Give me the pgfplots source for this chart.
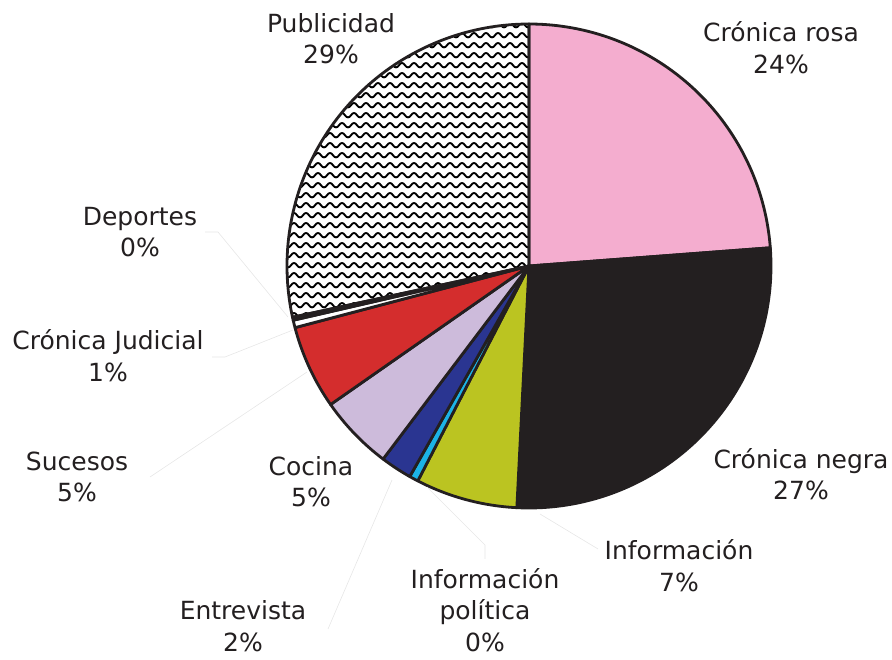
\documentclass[border=0pt]{standalone}
\usepackage{pgfplots}
\pgfplotsset{compat=1.18}
\usepackage{fontspec}
\setmainfont{DejaVu Sans}
\usetikzlibrary{patterns}

\pgfdeclarepatternformonly{waves}{\pgfqpoint{-1pt}{-1pt}}{\pgfqpoint{13pt}{11pt}}{\pgfqpoint{12pt}{10pt}}{%
  \pgfsetlinewidth{1.9pt}%
  \pgfpathmoveto{\pgfqpoint{0pt}{1.5pt}}%
  \pgfpathcurveto{\pgfqpoint{2.5pt}{1.5pt}}{\pgfqpoint{3.5pt}{6pt}}{\pgfqpoint{6pt}{6pt}}%
  \pgfpathcurveto{\pgfqpoint{8.5pt}{6pt}}{\pgfqpoint{9.5pt}{1.5pt}}{\pgfqpoint{12pt}{1.5pt}}%
  \pgfusepath{stroke}%
}

\definecolor{crosa}{HTML}{F4ADCF}
\definecolor{cnegra}{HTML}{231F20}
\definecolor{cinfo}{HTML}{BBC421}
\definecolor{cpol}{HTML}{1CB3E6}
\definecolor{centre}{HTML}{2A3591}
\definecolor{ccoc}{HTML}{CDBBDB}
\definecolor{csuc}{HTML}{D42D2D}
\definecolor{cjud}{HTML}{FFFFFF}
\definecolor{cdep}{HTML}{FFFFFF}
\definecolor{lead}{HTML}{E6E6E6}
\definecolor{txt}{HTML}{231F20}

% pie centre and radius (axis units = pt)
\def\cx{529}
\def\cy{393}
\def\R{242}
\def\cum{0}
\newcommand\slice[2]{%
  \pgfmathsetmacro\aend{90-3.6*\cum}%
  \pgfmathsetmacro\astart{90-3.6*(\cum+#1)}%
  \pgfmathsetmacro\newcum{\cum+#1}%
  \global\let\cum\newcum
  \addplot[#2, draw=cnegra, line width=2.8pt, line join=round, domain=\astart:\aend, samples=90, variable=\t]
    ({\cx+\R*cos(\t)},{\cy+\R*sin(\t)}) -- (axis cs:\cx,\cy) -- cycle;
}

\begin{document}
\begin{tikzpicture}[lbl/.style={font=\fontsize{25}{31.5}\selectfont, align=center, text=txt, inner sep=0pt}]
\begin{axis}[
  scale only axis, width=892pt, height=659pt,
  xmin=0, xmax=892, ymin=0, ymax=659,
  axis line style={draw=none}, xtick=\empty, ytick=\empty,
  clip=false,
]
% percentages (clockwise from 12 o'clock)
\slice{23.8}{fill=crosa}       % Cronica rosa
\slice{27.0}{fill=cnegra}      % Cronica negra
\slice{6.8}{fill=cinfo}        % Informacion
\slice{0.6}{fill=cpol}         % Informacion politica
\slice{2.1}{fill=centre}       % Entrevista
\slice{5.0}{fill=ccoc}         % Cocina
\slice{5.6}{fill=csuc}         % Sucesos
\slice{0.5}{fill=cjud}         % Cronica Judicial
\slice{0.2}{fill=cdep}         % Deportes
\slice{28.4}{pattern=waves, pattern color=black} % Publicidad

% leader lines
\draw[lead, line width=0.6pt] (axis cs:205,427) -- (axis cs:218,427) -- (axis cs:288,342);
\draw[lead, line width=0.6pt] (axis cs:212,302) -- (axis cs:225,302) -- (axis cs:293,329);
\draw[lead, line width=0.6pt] (axis cs:150,182) -- (axis cs:307,287);
\draw[lead, line width=0.6pt] (axis cs:328,30) -- (axis cs:392,179);
\draw[lead, line width=0.6pt] (axis cs:485,100) -- (axis cs:485,114) -- (axis cs:427,172);
\draw[lead, line width=0.6pt] (axis cs:598,110) -- (axis cs:540,145);

% labels
\node[lbl] at (axis cs:331,620.5) {Publicidad\\29\%};
\node[lbl] at (axis cs:781,611.5) {Crónica rosa\\24\%};
\node[lbl] at (axis cs:140,427) {Deportes\\0\%};
\node[lbl] at (axis cs:108,303.5) {Crónica Judicial\\1\%};
\node[lbl] at (axis cs:77,182) {Sucesos\\5\%};
\node[lbl] at (axis cs:311,177.5) {Cocina\\5\%};
\node[lbl] at (axis cs:801,185) {Crónica negra\\27\%};
\node[lbl] at (axis cs:679,93.5) {Información\\7\%};
\node[lbl] at (axis cs:485,49) {Información\\política\\0\%};
\node[lbl] at (axis cs:243,33) {Entrevista\\2\%};
\end{axis}
\end{tikzpicture}
\end{document}
